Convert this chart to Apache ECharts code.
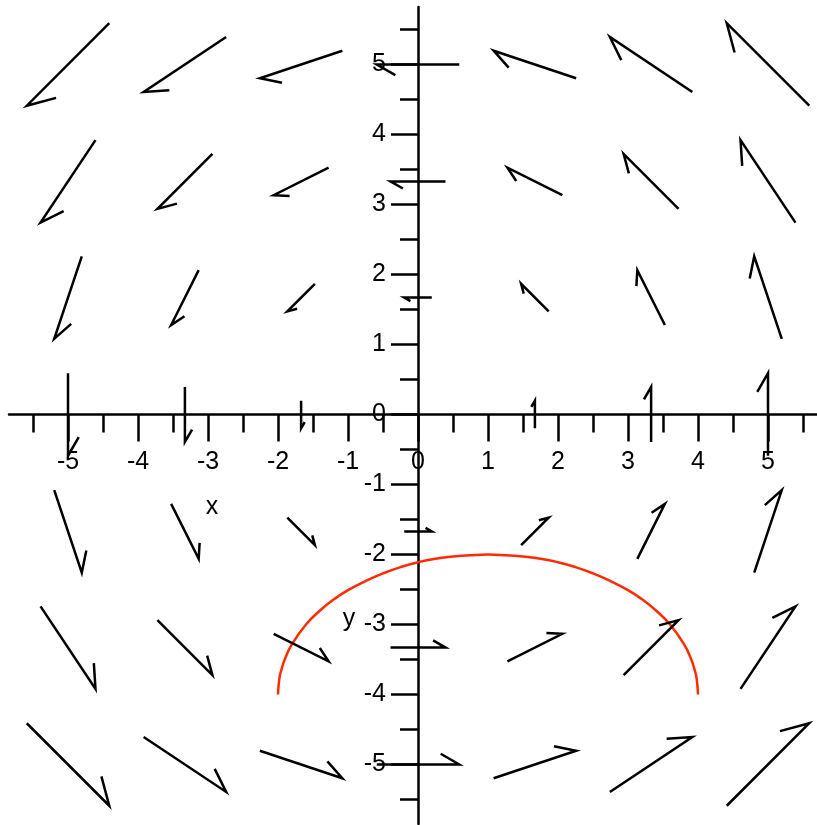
<!DOCTYPE html>
<html>
<head>
<meta charset="utf-8">
<script src="https://cdn.jsdelivr.net/npm/echarts@6/dist/echarts.min.js"></script>
<style>
  html, body { margin: 0; padding: 0; background: #fff; }
  #fieldChart { width: 817px; height: 825px; }
</style>
</head>
<body>
<div id="fieldChart"></div>
<script>
  // grid points of the direction field
  var gridX = [-5, -3.33, -1.67, 0, 1.67, 3.33, 5];
  var gridY = [5, 3.33, 1.67, 0, -1.67, -3.33, -5];

  // field components at each grid point (rows follow gridY, columns follow gridX)
  var fieldU = [
    [-5, -5, -5, -5, -5, -5, -5],
    [-3.33, -3.33, -3.33, -3.33, -3.33, -3.33, -3.33],
    [-1.67, -1.67, -1.67, -1.67, -1.67, -1.67, -1.67],
    [0, 0, 0, 0, 0, 0, 0],
    [1.67, 1.67, 1.67, 1.67, 1.67, 1.67, 1.67],
    [3.33, 3.33, 3.33, 3.33, 3.33, 3.33, 3.33],
    [5, 5, 5, 5, 5, 5, 5]
  ];
  var fieldV = [
    [-5, -3.33, -1.67, 0, 1.67, 3.33, 5],
    [-5, -3.33, -1.67, 0, 1.67, 3.33, 5],
    [-5, -3.33, -1.67, 0, 1.67, 3.33, 5],
    [-5, -3.33, -1.67, 0, 1.67, 3.33, 5],
    [-5, -3.33, -1.67, 0, 1.67, 3.33, 5],
    [-5, -3.33, -1.67, 0, 1.67, 3.33, 5],
    [-5, -3.33, -1.67, 0, 1.67, 3.33, 5]
  ];

  // red half ellipse
  var curveX = [-2, -1.98, -1.95, -1.9, -1.8, -1.6, -1.4, -1.2, -1, -0.75, -0.5, -0.25, 0, 0.25, 0.5, 0.75, 1,
    1.25, 1.5, 1.75, 2, 2.25, 2.5, 2.75, 3, 3.2, 3.4, 3.6, 3.8, 3.9, 3.95, 3.98, 4];
  var curveY = [-4, -3.77, -3.64, -3.49, -3.28, -3.0, -2.8, -2.64, -2.51, -2.38, -2.27, -2.18, -2.11, -2.06, -2.03, -2.01, -2,
    -2.01, -2.03, -2.06, -2.11, -2.18, -2.27, -2.38, -2.51, -2.64, -2.8, -3.0, -3.28, -3.49, -3.64, -3.77, -4];

  // tick labels
  var majorTicks = [-5, -4, -3, -2, -1, 0, 1, 2, 3, 4, 5];
  var minorTicks = [-5.5, -4.5, -3.5, -2.5, -1.5, -0.5, 0.5, 1.5, 2.5, 3.5, 4.5, 5.5];

  var xRange = [-5.843, 5.7];
  var yRange = [-5.85, 5.821];
  var arrowScale = 0.2357;   // data units per field unit
  var barbRatio = 0.26;
  var barbAngle = 30 * Math.PI / 180;
  var inkColor = '#000';
  var fontName = '"Liberation Sans", Arial, sans-serif';

  var arrowData = [];
  for (var i = 0; i < gridY.length; i++) {
    for (var j = 0; j < gridX.length; j++) {
      arrowData.push([gridX[j], gridY[i], fieldU[i][j], fieldV[i][j]]);
    }
  }
  var curveData = curveX.map(function (x, k) { return [x, curveY[k]]; });

  function renderArrow(params, api) {
    var x = api.value(0), y = api.value(1), u = api.value(2), v = api.value(3);
    var tail = api.coord([x - arrowScale * u / 2, y - arrowScale * v / 2]);
    var head = api.coord([x + arrowScale * u / 2, y + arrowScale * v / 2]);
    var bx = tail[0] - head[0], by = tail[1] - head[1];
    if (Math.sqrt(bx * bx + by * by) < 1) return;
    var c = Math.cos(barbAngle), s = Math.sin(barbAngle);
    var barb = [head[0] + barbRatio * (bx * c - by * s), head[1] + barbRatio * (bx * s + by * c)];
    return {
      type: 'polyline',
      shape: { points: [tail, head, barb] },
      style: { stroke: inkColor, lineWidth: 2.5, fill: null, lineJoin: 'miter' }
    };
  }

  var tickStyle = { color: inkColor, width: 2.5 };
  var labelStyle = { color: inkColor, fontSize: 25, fontFamily: fontName };
  var hidden = { show: false };

  var chart = echarts.init(document.getElementById('fieldChart'));
  var option = {
    animation: false,
    backgroundColor: '#fff',
    // grid 0 holds the plot, grids 1 and 2 only carry the tick labels next to the zero lines
    grid: [
      { left: 9, right: 0, top: 7, bottom: 1, outerBoundsMode: 'none' },
      { left: 9, right: 0, top: 7, bottom: 410.5, outerBoundsMode: 'none' },
      { left: 418, right: 0, top: 7, bottom: 1, outerBoundsMode: 'none' }
    ],
    xAxis: [{
      type: 'value', min: xRange[0], max: xRange[1], position: 'bottom',
      axisLine: { onZero: true, onZeroAxisIndex: 0, lineStyle: tickStyle },
      axisTick: { customValues: majorTicks, length: 27, lineStyle: tickStyle },
      axisLabel: hidden, splitLine: hidden
    }, {
      type: 'value', min: xRange[0], max: xRange[1], position: 'top',
      axisLine: { show: false, onZero: true, onZeroAxisIndex: 0 },
      axisTick: { customValues: minorTicks, inside: true, length: 18, lineStyle: tickStyle },
      axisLabel: hidden, splitLine: hidden
    }, {
      type: 'value', gridIndex: 1, min: xRange[0], max: xRange[1], position: 'bottom',
      axisLine: { show: false, onZero: false }, axisTick: hidden, splitLine: hidden,
      axisLabel: Object.assign({ customValues: majorTicks, margin: 35 }, labelStyle)
    }, {
      type: 'value', gridIndex: 2, show: false, min: xRange[0], max: xRange[1]
    }],
    yAxis: [{
      type: 'value', min: yRange[0], max: yRange[1], position: 'left',
      axisLine: { onZero: true, onZeroAxisIndex: 0, lineStyle: tickStyle },
      axisTick: { customValues: majorTicks, length: 27, lineStyle: tickStyle },
      axisLabel: hidden, splitLine: hidden
    }, {
      type: 'value', min: yRange[0], max: yRange[1], position: 'right',
      axisLine: { show: false, onZero: true, onZeroAxisIndex: 0 },
      axisTick: { customValues: minorTicks, inside: true, length: 18, lineStyle: tickStyle },
      axisLabel: hidden, splitLine: hidden
    }, {
      type: 'value', gridIndex: 2, min: yRange[0], max: yRange[1], position: 'left',
      axisLine: { show: false, onZero: false }, axisTick: hidden, splitLine: hidden,
      axisLabel: Object.assign({ customValues: majorTicks, margin: 32 }, labelStyle)
    }, {
      type: 'value', gridIndex: 1, show: false, min: yRange[0], max: yRange[1]
    }],
    graphic: [
      { type: 'text', x: 212, y: 507, style: { text: 'x', fill: inkColor, font: '25px ' + fontName, align: 'center', verticalAlign: 'middle' } },
      { type: 'text', x: 349, y: 619, style: { text: 'y', fill: inkColor, font: '25px ' + fontName, align: 'center', verticalAlign: 'middle' } }
    ],
    series: [{
      type: 'custom',
      xAxisIndex: 0, yAxisIndex: 0,
      renderItem: renderArrow,
      encode: { x: 0, y: 1 },
      data: arrowData,
      clip: false,
      z: 5
    }, {
      type: 'line',
      xAxisIndex: 0, yAxisIndex: 0,
      symbol: 'none',
      smooth: true,
      lineStyle: { color: '#ff2a00', width: 2.5 },
      data: curveData,
      z: 4
    }]
  };
  chart.setOption(option);
</script>
</body>
</html>
